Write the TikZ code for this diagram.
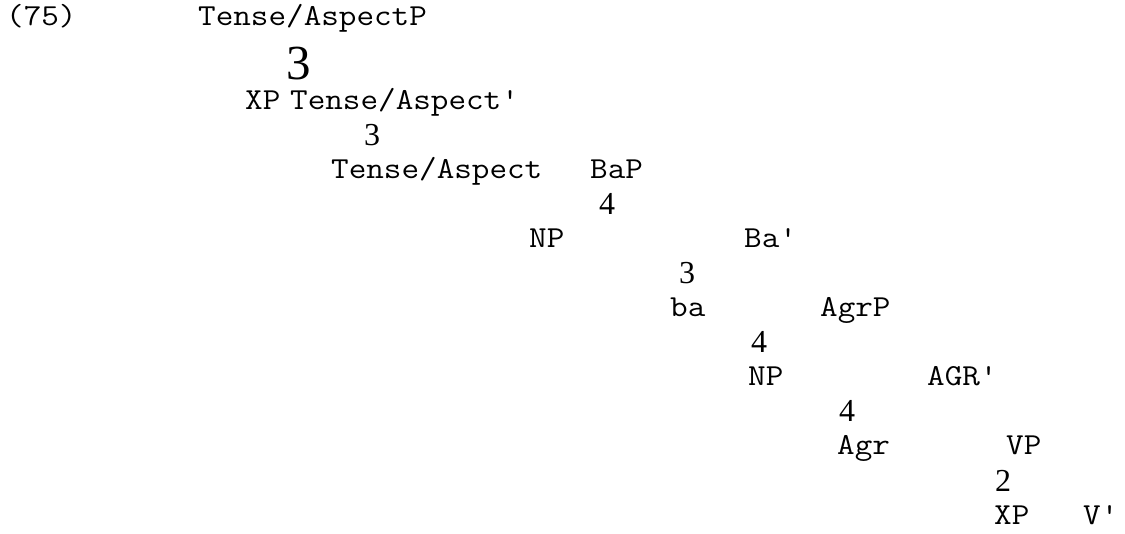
\documentclass[tikz,border=0pt]{standalone}
\usepackage{fontspec}
\usepackage{graphicx}
\setmainfont{Liberation Serif}
\newcommand\labtxt[1]{\scalebox{1.12}[1]{\fontsize{30.5}{30.5}\selectfont\ttfamily #1}}
\begin{document}
\begin{tikzpicture}[x=1pt,y=-1pt,
  lab/.style={anchor=base west,inner sep=0pt},
  br/.style={anchor=base west,inner sep=0pt,font=\fontsize{32}{32}\selectfont\rmfamily},
  bigbr/.style={anchor=base west,inner sep=0pt,font=\fontsize{49}{49}\selectfont\rmfamily}]
\useasboundingbox[fill=white] (0,0) rectangle (1125,534);
\node[lab] (ex) at (6,26) {\labtxt{(75)}};
\node[lab] (tap) at (198,26) {\labtxt{Tense/AspectP}};
\node[bigbr] (b1) at (286,80) {3};
\node[lab] (xp1) at (245,110) {\labtxt{XP}};
\node[lab] (tabar) at (290,110) {\labtxt{Tense/Aspect'}};
\node[br] (b2) at (364,146) {3};
\node[lab] (ta) at (331,179) {\labtxt{Tense/Aspect}};
\node[lab] (bap) at (590,179) {\labtxt{BaP}};
\node[br] (b3) at (599,215) {4};
\node[lab] (np1) at (529,248) {\labtxt{NP}};
\node[lab] (babar) at (744,248) {\labtxt{Ba'}};
\node[br] (b4) at (679,284) {3};
\node[lab] (ba) at (670,317) {\labtxt{ba}};
\node[lab] (agrp) at (820,317) {\labtxt{AgrP}};
\node[br] (b5) at (751,353) {4};
\node[lab] (np2) at (748,386) {\labtxt{NP}};
\node[lab] (agrbar) at (927,386) {\labtxt{AGR'}};
\node[br] (b6) at (839,422) {4};
\node[lab] (agr) at (837,455) {\labtxt{Agr}};
\node[lab] (vp) at (1006,455) {\labtxt{VP}};
\node[br] (b7) at (995,491) {2};
\node[lab] (xp2) at (994,524) {\labtxt{XP}};
\node[lab] (vbar) at (1083,524) {\labtxt{V'}};
\end{tikzpicture}
\end{document}
